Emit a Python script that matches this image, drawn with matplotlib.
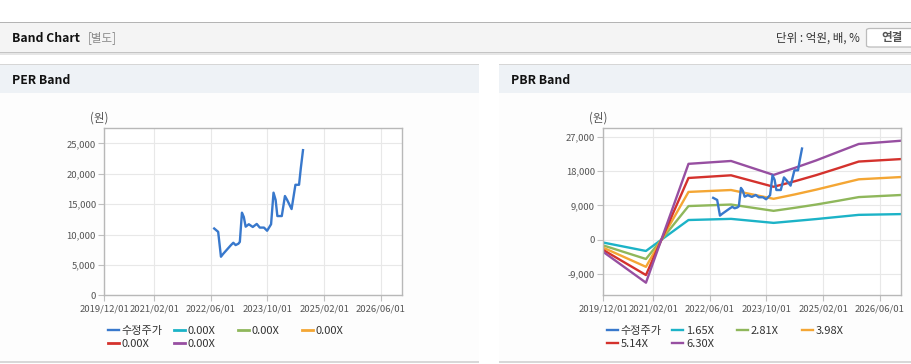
import matplotlib
matplotlib.use('Agg')
import matplotlib.pyplot as plt
from matplotlib.patches import Rectangle, FancyBboxPatch
from matplotlib.lines import Line2D
from matplotlib.legend import Legend
import pandas as pd

plt.rcParams['font.family'] = ['Noto Sans CJK KR', 'DejaVu Sans']

# ---------------- data ----------------
price_dates = ['2022-07-01', '2022-08-04', '2022-08-28', '2022-09-15', '2022-10-15',
               '2022-11-22', '2022-12-12', '2023-01-01', '2023-01-25', '2023-02-06',
               '2023-02-24', '2023-03-12', '2023-03-28', '2023-04-24', '2023-05-28',
               '2023-07-01', '2023-07-27', '2023-09-01', '2023-09-28', '2023-11-01',
               '2023-11-22', '2023-12-10', '2023-12-25', '2024-02-01', '2024-02-28',
               '2024-03-18', '2024-04-25', '2024-05-28', '2024-06-28', '2024-07-13',
               '2024-08-01']
price_values = [11000, 10450, 6350, 6800, 7450,
                8270, 8650, 8270, 8500, 8800,
                13600, 12900, 11300, 11700, 11250,
                11750, 11150, 11150, 10630, 11700,
                16900, 15700, 13050, 13050, 16350,
                15700, 14200, 18200, 18200, 20900,
                23900]

band_dates = ['2019-12-01', '2020-12-01', '2021-12-01', '2022-12-01', '2023-12-01',
              '2024-06-01', '2024-12-01', '2025-06-01', '2025-12-01', '2026-12-01']
pbr_band_165 = [-700, -2900, 5200, 5500, 4450, 4950, 5450, 6000, 6550, 6750]
pbr_band_281 = [-1450, -5000, 8850, 9250, 7600, 8400, 9250, 10200, 11200, 11750]
pbr_band_398 = [-2050, -7050, 12550, 13050, 10750, 11900, 13150, 14500, 15850, 16450]
pbr_band_514 = [-2650, -9200, 16200, 16900, 13900, 15350, 16950, 18700, 20500, 21150]
pbr_band_630 = [-3150, -11200, 19900, 20650, 17000, 18850, 20800, 22950, 25100, 25950]
pbr_labels = ['1.65X', '2.81X', '3.98X', '5.14X', '6.30X']
per_labels = ['0.00X', '0.00X', '0.00X', '0.00X', '0.00X']
price_label = '수정주가'

x_tick_dates = ['2019-12-01', '2021-02-01', '2022-06-01', '2023-10-01', '2025-02-01', '2026-06-01']
x_range = ['2019-12-01', '2026-12-01']
per_y_ticks = [0, 5000, 10000, 15000, 20000, 25000]
pbr_y_ticks = [-9000, 0, 9000, 18000, 27000]

# ---------------- style ----------------
W, H = 912, 364
C_PRICE = '#3878cc'
BAND_COLORS = ['#1cb3c7', '#8fb75b', '#f4a634', '#d4322d', '#974fa1']
GRID = '#e8e8e8'
SPINE = '#b8b8b8'
TICKC = '#555555'

fig = plt.figure(figsize=(W / 100, H / 100), dpi=100)
fig.patch.set_facecolor('white')


def fx(px):
    return px / W


def fy(py):
    return 1 - py / H


def rect(x0, y0, x1, y1, color, z=-10):
    fig.patches.append(Rectangle((fx(x0), fy(y1)), (x1 - x0) / W, (y1 - y0) / H,
                                 transform=fig.transFigure, facecolor=color,
                                 edgecolor='none', zorder=z))


# page chrome
rect(0, 21.5, W, 23, '#b4b4b4')
rect(0, 23, W, 52, '#f4f4f4')
rect(0, 52, W, 53, '#c4c4c4')
rect(0, 53, W, 54.5, '#e6e6e6')
for (a, b) in [(0, 479), (499, W)]:
    rect(a, 63.5, b, 65, '#d6d6d6')
    rect(a, 65, b, 93, '#eef2f6')
    rect(a, 93, b, 361, '#fdfdfd')
    rect(a, 361, b, 362.5, '#d8d8d8')

fig.text(fx(12), fy(38), 'Band Chart', fontsize=8.8, fontweight='bold', color='#111',
         ha='left', va='center')
fig.text(fx(88), fy(38), '[별도]', fontsize=8.3, color='#8a8a8a', ha='left', va='center')
fig.text(fx(860), fy(38), '단위 : 억원, 배, %', fontsize=8.3, color='#333', ha='right', va='center')
fig.patches.append(FancyBboxPatch((fx(866.5), fy(47)), (W - 866.5) / W + 0.01, 18.5 / H,
                                  boxstyle='round,pad=0,rounding_size=0.004',
                                  transform=fig.transFigure, facecolor='white',
                                  edgecolor='#bcbcbc', linewidth=0.9, zorder=2))
fig.text(fx(892), fy(38), '연결', fontsize=8.3, fontweight='bold', color='#555',
         ha='center', va='center', zorder=3)
fig.text(fx(12), fy(80), 'PER Band', fontsize=8.8, fontweight='bold', color='#111',
         ha='left', va='center')
fig.text(fx(511), fy(80), 'PBR Band', fontsize=8.8, fontweight='bold', color='#111',
         ha='left', va='center')

pdates = pd.to_datetime(price_dates)
bdates = pd.to_datetime(band_dates)
xt = pd.to_datetime(x_tick_dates)
xr = pd.to_datetime(x_range)


def setup_axes(left_px, yticks, ylim):
    ax = fig.add_axes([fx(left_px), fy(295.3), 298 / W, 167 / H])
    ax.set_facecolor('white')
    ax.set_xlim(xr[0], xr[1])
    ax.set_ylim(*ylim)
    ax.set_xticks(xt)
    ax.set_xticklabels([d.strftime('%Y/%m/%d') for d in xt])
    ax.set_yticks(yticks)
    ax.set_yticklabels([f'{v:,}' for v in yticks])
    ax.grid(True, color=GRID, linewidth=0.8)
    ax.set_axisbelow(True)
    for s in ax.spines.values():
        s.set_color(SPINE)
        s.set_linewidth(1.0)
    ax.tick_params(axis='both', colors='#c0c0c0', length=4, width=0.8,
                   labelsize=6.8, labelcolor=TICKC)
    ax.tick_params(axis='y', pad=2)
    ax.tick_params(axis='x', pad=2.5)
    return ax


def add_legends(ax, handles, labels, xs):
    cols = [[0, 4], [1, 5], [2], [3]]
    for ci, idx in enumerate(cols):
        leg = Legend(ax, [handles[i] for i in idx], [labels[i] for i in idx],
                     loc='upper left', bbox_to_anchor=(fx(xs[ci]), fy(326.0)),
                     bbox_transform=fig.transFigure, frameon=False, borderpad=0,
                     borderaxespad=0, handlelength=1.0, handletextpad=0.25,
                     labelspacing=0.28, fontsize=8, labelcolor='#333')
        ax.add_artist(leg)


# ---------------- PER band ----------------
ax1 = setup_axes(104.3, per_y_ticks, (0, 27500))
l_price1, = ax1.plot(pdates, price_values, color=C_PRICE, lw=1.7, solid_joinstyle='round')
h1 = [l_price1] + [Line2D([], [], color=c, lw=2) for c in BAND_COLORS]
add_legends(ax1, h1, [price_label] + per_labels, [108, 174, 238, 302])
fig.text(fx(99), fy(118), '(원)', fontsize=8.3, color='#555', ha='center', va='center')

# ---------------- PBR band ----------------
ax2 = setup_axes(603.3, pbr_y_ticks, (-14500, 29200))
bands = [pbr_band_165, pbr_band_281, pbr_band_398, pbr_band_514, pbr_band_630]
band_lines = []
for vals, c in zip(bands, BAND_COLORS):
    ln, = ax2.plot(bdates, vals, color=c, lw=1.7)
    band_lines.append(ln)
l_price2, = ax2.plot(pdates, price_values, color=C_PRICE, lw=1.7, solid_joinstyle='round')
add_legends(ax2, [l_price2] + band_lines, [price_label] + pbr_labels, [607, 672, 737, 802])
fig.text(fx(598), fy(118), '(원)', fontsize=8.3, color='#555', ha='center', va='center')

fig.savefig('out.png', dpi=100, facecolor=fig.get_facecolor())
